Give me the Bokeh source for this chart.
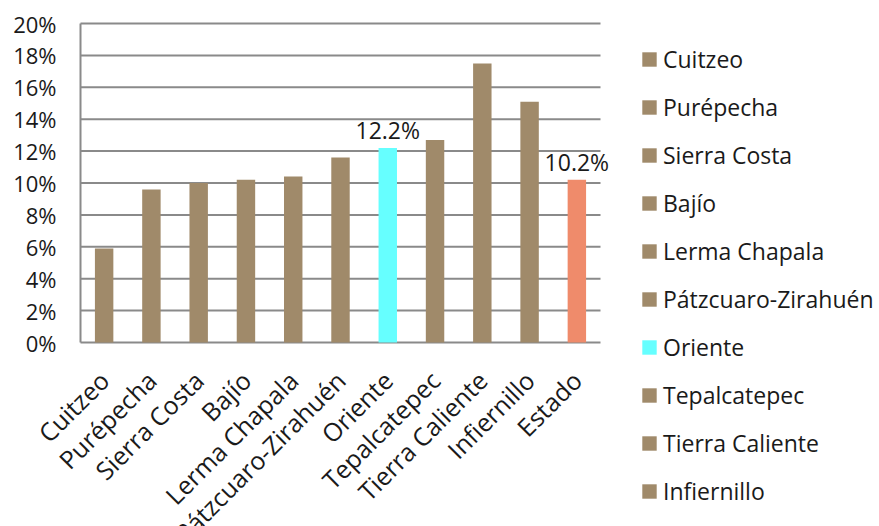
import math
from bokeh.plotting import figure
from bokeh.models import ColumnDataSource, Range1d, Legend, LegendItem
from bokeh.core.properties import value
from bokeh.embed import file_html
from bokeh.resources import INLINE

# ---- data ----
regions = ["Cuitzeo", "Purépecha", "Sierra Costa", "Bajío", "Lerma Chapala",
           "Pátzcuaro-Zirahuén", "Oriente", "Tepalcatepec", "Tierra Caliente",
           "Infiernillo", "Estado"]
values = [5.9, 9.6, 10.0, 10.2, 10.4, 11.6, 12.2, 12.7, 17.5, 15.1, 10.2]
bar_colors = ["#A08A6A", "#A08A6A", "#A08A6A", "#A08A6A", "#A08A6A", "#A08A6A",
              "#66FFFF", "#A08A6A", "#A08A6A", "#A08A6A", "#EF8B6B"]
labeled = ["Oriente", "Estado"]
y_ticks = [0, 2, 4, 6, 8, 10, 12, 14, 16, 18, 20]
y_tick_labels = ["0%", "2%", "4%", "6%", "8%", "10%", "12%", "14%", "16%",
                 "18%", "20%"]
legend_count = 10  # entries visible in the reference legend

FONT = "Open Sans"
TXT = "#1a1a1a"
GRID = "#8a8a8a"

# ---- layout (pixels) ----
W, H = 879, 526
AX_X = 80                  # pixel column of the value axis
Y0_PX, Y20_PX = 342, 23    # pixel rows of the bottom and top of the value axis
PITCH = 520 / 11           # px per category

n = len(regions)
idx = list(range(n))
x_lo = -0.5                # left edge of first category
x_hi = n - 0.5             # right edge of last category
y_lo, y_hi = y_ticks[0], y_ticks[-1]

src = ColumnDataSource(dict(x=idx, y=values, color=bar_colors))
lab_idx = [regions.index(r) for r in labeled]
lab_vals = [values[i] for i in lab_idx]
lab_src = ColumnDataSource(dict(x=lab_idx, y=lab_vals,
                                t=["%.1f%%" % v for v in lab_vals]))
cat_src = ColumnDataSource(dict(x=idx, y=[y_lo] * n, t=regions))
ytick_src = ColumnDataSource(dict(x=[x_lo] * len(y_ticks), y=y_ticks,
                                  t=y_tick_labels))
grid_src = ColumnDataSource(dict(x0=[x_lo] * len(y_ticks),
                                 x1=[x_hi] * len(y_ticks), y=y_ticks))

ppu = (Y0_PX - Y20_PX) / (y_hi - y_lo)
y_rng = Range1d(y_lo - (H - Y0_PX) / ppu, y_hi + Y20_PX / ppu)
x_rng = Range1d(x_lo - AX_X / PITCH, x_lo + (W - AX_X) / PITCH)

p = figure(x_range=x_rng, y_range=y_rng, width=W, height=H,
           output_backend="svg", toolbar_location=None,
           min_border_left=0, min_border_right=0, min_border_top=0,
           min_border_bottom=0)
p.axis.visible = False
p.grid.visible = False
p.outline_line_color = None
p.background_fill_color = "white"
p.border_fill_color = "white"

# horizontal gridlines spanning the categories
p.segment(x0="x0", x1="x1", y0="y", y1="y", source=grid_src,
          line_color=GRID, line_width=2)
# value axis line
p.segment(x0=[x_lo], x1=[x_lo], y0=[y_lo], y1=[y_hi],
          line_color=GRID, line_width=2)

r = p.vbar(x="x", top="y", width=0.39, color="color", source=src, line_color=None)

# value labels
p.text(x="x", y="y", text="t", source=lab_src, text_align="center",
       text_baseline="alphabetic", y_offset=-18, text_font=value(FONT),
       text_font_size="23px", text_color=TXT)

# value-axis tick labels
p.text(x="x", y="y", text="t", source=ytick_src, text_align="right",
       text_baseline="middle", x_offset=-24, text_font=value(FONT),
       text_font_size="22px", text_color=TXT)

# rotated category labels under the axis
p.text(x="x", y="y", text="t", source=cat_src, angle=math.pi / 4,
       text_align="right", text_baseline="middle", y_offset=33,
       text_font=value(FONT), text_font_size="25px", text_color=TXT)

# legend (first ten regions are visible in the reference)
items = [LegendItem(label=regions[i], renderers=[r], index=i)
         for i in range(legend_count)]
legend = Legend(items=items, location=(640, 19), orientation="vertical",
                padding=0, margin=0, spacing=16, label_height=32,
                glyph_width=18, glyph_height=18, label_standoff=5,
                label_text_font=FONT, label_text_font_size="23px",
                label_text_color=TXT, border_line_color=None,
                background_fill_alpha=0)
p.add_layout(legend, "center")

open("out.html", "w").write(file_html(p, INLINE))
